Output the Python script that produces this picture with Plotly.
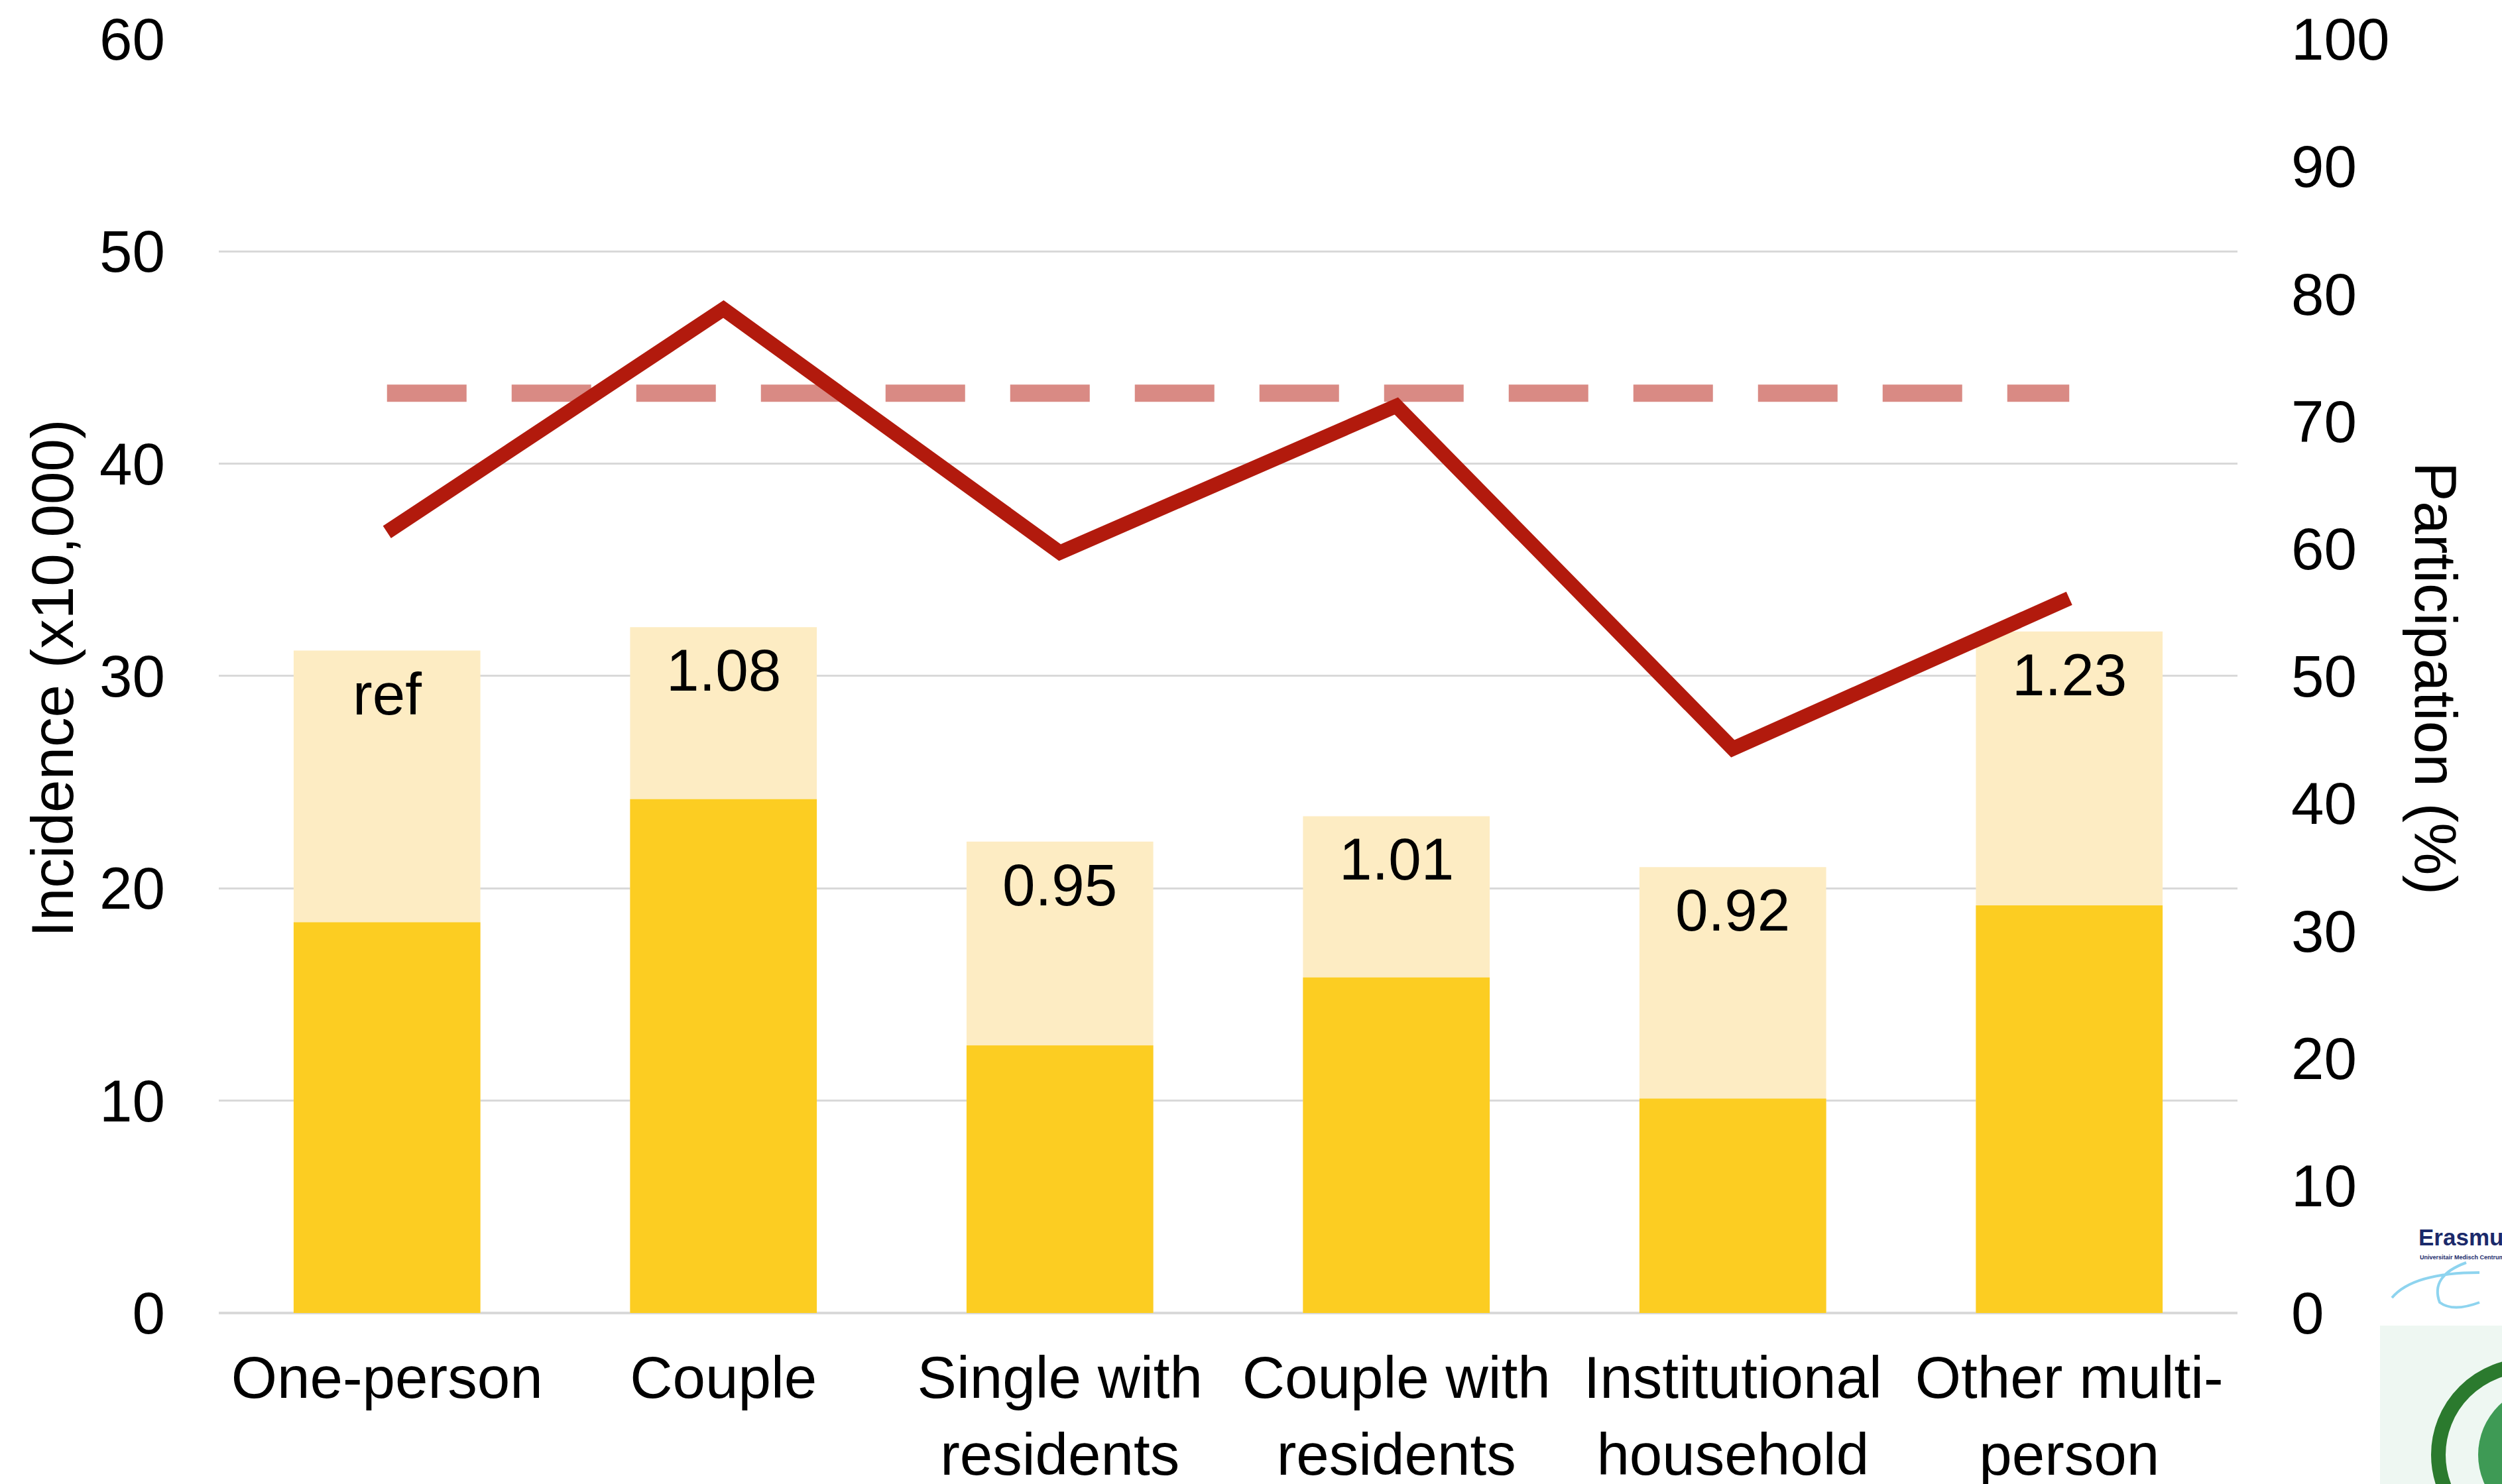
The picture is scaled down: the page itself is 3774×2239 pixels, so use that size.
import plotly.graph_objects as go

categories = ["One-person", "Couple", "Single with<br>residents", "Couple with<br>residents",
              "Institutional<br>household", "Other multi-<br>person"]
incidence_total = [31.2, 32.3, 22.2, 23.4, 21.0, 32.1]
incidence_part = [18.4, 24.2, 12.6, 15.8, 10.1, 19.2]
ratio_labels = ["ref", "1.08", "0.95", "1.01", "0.92", "1.23"]
participation = [61.3, 78.8, 59.7, 71.2, 44.3, 56.1]
participation_overall = [72.2] * 6

W_PX, H_PX = 3774, 2239
# plot area in page pixels
L, R, T, B = 330, 3375, 58, 1981
PW, PH = R - L, B - T
FONT = "Liberation Sans, Arial, sans-serif"
FS = 89


def px(x):
    return (x - L) / PW


def py(y):
    return (B - y) / PH


fig = go.Figure()
fig.add_trace(go.Bar(x=categories, y=incidence_total, marker=dict(color="#FDECC3", line=dict(width=0)),
                     width=0.555, hoverinfo="skip"))
fig.add_trace(go.Bar(x=categories, y=incidence_part, marker=dict(color="#FCCD22", line=dict(width=0)),
                     width=0.555, hoverinfo="skip"))
fig.add_trace(go.Scatter(x=categories, y=participation_overall, yaxis="y2", mode="lines",
                         line=dict(color="#D98A84", width=26, dash="120px,68px")))
fig.add_trace(go.Scatter(x=categories, y=participation, yaxis="y2", mode="lines",
                         line=dict(color="#B21A0D", width=22)))

for c, v, t in zip(categories, incidence_total, ratio_labels):
    fig.add_annotation(x=c, y=v, text=t, showarrow=False, yanchor="top", yshift=-13,
                       font=dict(size=FS, color="black", family=FONT))

# axis titles
fig.add_annotation(xref="paper", yref="paper", x=px(79), y=py(1023), xanchor="center", yanchor="middle",
                   text="Incidence (x10,000)", textangle=-90, showarrow=False,
                   font=dict(size=FS, color="black", family=FONT))
fig.add_annotation(xref="paper", yref="paper", x=px(3674), y=py(1023), xanchor="center", yanchor="middle",
                   text="Participation (%)", textangle=90, showarrow=False,
                   font=dict(size=FS, color="black", family=FONT))

# logos (decoration)
fig.add_annotation(xref="paper", yref="paper", x=px(3646), y=py(1888), xanchor="left", yanchor="bottom",
                   text="<b>Erasmus MC</b>", showarrow=False, font=dict(size=35, color="#1B2A6B", family=FONT))
fig.add_annotation(xref="paper", yref="paper", x=px(3648), y=py(1897), xanchor="left", yanchor="middle",
                   text="<b>Universitair Medisch Centrum</b>", showarrow=False,
                   font=dict(size=9, color="#1B2A6B", family=FONT))
fig.add_shape(type="path", xref="paper", yref="paper", layer="above",
              path=f"M {px(3608)} {py(1958)} Q {px(3640)} {py(1920)} {px(3740)} {py(1920)} "
                   f"M {px(3720)} {py(1905)} Q {px(3665)} {py(1925)} {px(3680)} {py(1965)} Q {px(3700)} {py(1980)} {px(3740)} {py(1965)}",
              line=dict(color="#8ED4EF", width=4))
fig.add_shape(type="rect", xref="paper", yref="paper", layer="above",
              x0=px(3590), x1=px(3800), y0=py(2000), y1=py(2260),
              fillcolor="#EEF7F2", line=dict(width=0))
fig.add_shape(type="circle", xref="paper", yref="paper", layer="above",
              x0=px(3678), x1=px(3950), y0=py(2060), y1=py(2330),
              fillcolor="rgba(0,0,0,0)", line=dict(color="#2B7A2E", width=22))
fig.add_shape(type="circle", xref="paper", yref="paper", layer="above",
              x0=px(3738), x1=px(3950), y0=py(2090), y1=py(2300),
              fillcolor="#3E9A55", line=dict(width=0))

fig.update_layout(
    width=W_PX, height=H_PX,
    margin=dict(l=L, r=W_PX - R, t=T, b=H_PX - B, autoexpand=False),
    paper_bgcolor="white", plot_bgcolor="white",
    barmode="overlay", bargap=0.445, showlegend=False,
    font=dict(family=FONT, size=FS, color="black"),
    xaxis=dict(showgrid=False, showline=False, ticks="", tickfont=dict(size=FS),
               ticklabelstandoff=38),
    yaxis=dict(range=[0, 60.03], tickvals=[0, 10, 20, 30, 40, 50, 60], showgrid=True,
               gridcolor="#D9D9D9", gridwidth=3,
               zeroline=True, zerolinecolor="#D9D9D9", zerolinewidth=4, showline=False,
               ticks="", tickfont=dict(size=FS), ticklabelstandoff=80),
    yaxis2=dict(range=[0, 100.05], tickvals=list(range(0, 101, 10)), overlaying="y", side="right",
                showgrid=False, zeroline=False, showline=False, ticks="", tickfont=dict(size=FS),
                ticklabelstandoff=80),
)

fig.write_html("out.html", config={"displayModeBar": False},
               post_script="document.body.style.margin='0';document.body.style.overflow='hidden';")
